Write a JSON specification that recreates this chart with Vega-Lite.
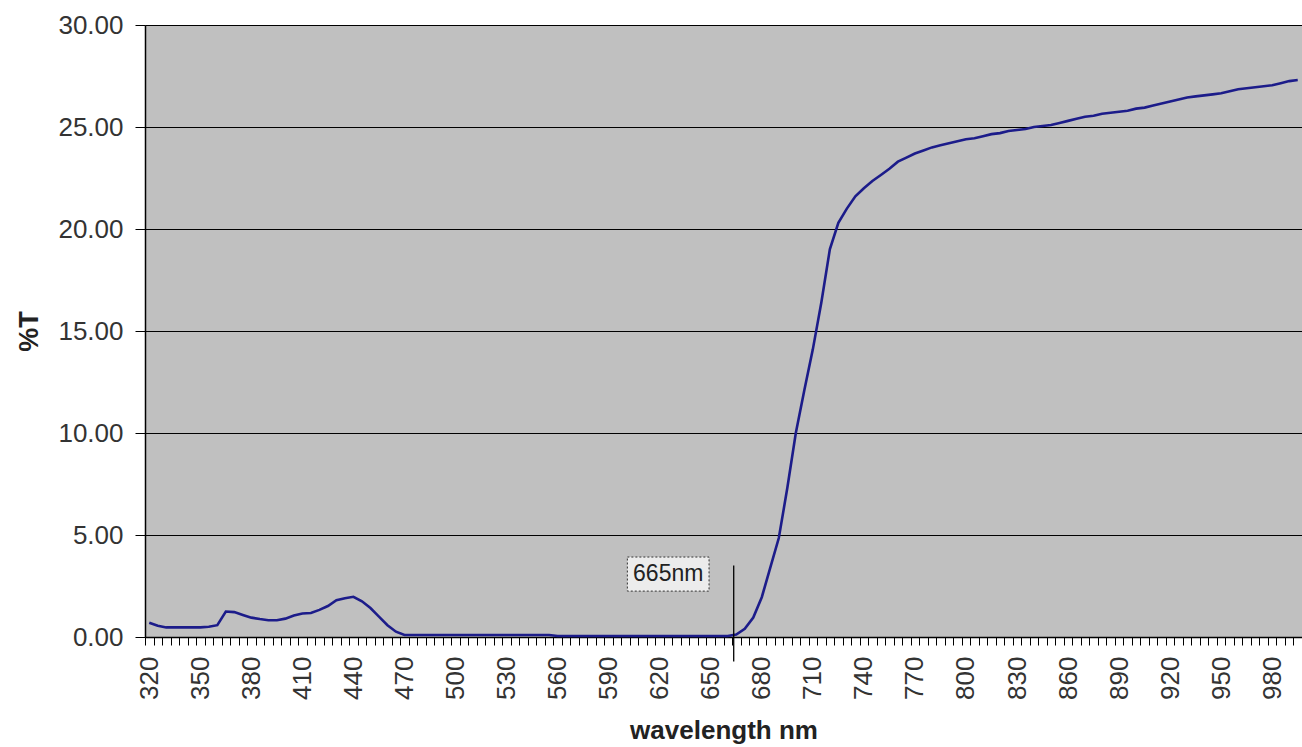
{
  "$schema": "https://vega.github.io/schema/vega-lite/v6.json",
  "width": 1157,
  "height": 612,
  "autosize": "none",
  "padding": {"left": 145, "top": 25, "right": 0, "bottom": 110},
  "background": "white",
  "config": {
    "view": {"fill": "#c0c0c0", "stroke": null},
    "font": "Liberation Sans"
  },
  "datasets": {
    "spectrum": [
      {"wavelength": 320, "T": 0.70}, {"wavelength": 325, "T": 0.55}, {"wavelength": 330, "T": 0.47},
      {"wavelength": 335, "T": 0.47}, {"wavelength": 340, "T": 0.47}, {"wavelength": 345, "T": 0.47},
      {"wavelength": 350, "T": 0.47}, {"wavelength": 355, "T": 0.50}, {"wavelength": 360, "T": 0.58},
      {"wavelength": 365, "T": 1.25}, {"wavelength": 370, "T": 1.22}, {"wavelength": 375, "T": 1.08},
      {"wavelength": 380, "T": 0.95}, {"wavelength": 385, "T": 0.88}, {"wavelength": 390, "T": 0.82},
      {"wavelength": 395, "T": 0.82}, {"wavelength": 400, "T": 0.90}, {"wavelength": 405, "T": 1.05},
      {"wavelength": 410, "T": 1.15}, {"wavelength": 415, "T": 1.18}, {"wavelength": 420, "T": 1.33},
      {"wavelength": 425, "T": 1.52}, {"wavelength": 430, "T": 1.80}, {"wavelength": 435, "T": 1.90},
      {"wavelength": 440, "T": 1.97}, {"wavelength": 445, "T": 1.75}, {"wavelength": 450, "T": 1.42},
      {"wavelength": 455, "T": 1.00}, {"wavelength": 460, "T": 0.58}, {"wavelength": 465, "T": 0.26},
      {"wavelength": 470, "T": 0.10}, {"wavelength": 475, "T": 0.10}, {"wavelength": 480, "T": 0.10},
      {"wavelength": 485, "T": 0.10}, {"wavelength": 490, "T": 0.10}, {"wavelength": 495, "T": 0.10},
      {"wavelength": 500, "T": 0.10}, {"wavelength": 505, "T": 0.10}, {"wavelength": 510, "T": 0.10},
      {"wavelength": 515, "T": 0.10}, {"wavelength": 520, "T": 0.10}, {"wavelength": 525, "T": 0.10},
      {"wavelength": 530, "T": 0.10}, {"wavelength": 535, "T": 0.10}, {"wavelength": 540, "T": 0.10},
      {"wavelength": 545, "T": 0.10}, {"wavelength": 550, "T": 0.10}, {"wavelength": 555, "T": 0.10},
      {"wavelength": 560, "T": 0.05}, {"wavelength": 565, "T": 0.05}, {"wavelength": 570, "T": 0.05},
      {"wavelength": 575, "T": 0.05}, {"wavelength": 580, "T": 0.05}, {"wavelength": 585, "T": 0.05},
      {"wavelength": 590, "T": 0.05}, {"wavelength": 595, "T": 0.05}, {"wavelength": 600, "T": 0.05},
      {"wavelength": 605, "T": 0.05}, {"wavelength": 610, "T": 0.05}, {"wavelength": 615, "T": 0.05},
      {"wavelength": 620, "T": 0.05}, {"wavelength": 625, "T": 0.05}, {"wavelength": 630, "T": 0.05},
      {"wavelength": 635, "T": 0.05}, {"wavelength": 640, "T": 0.05}, {"wavelength": 645, "T": 0.05},
      {"wavelength": 650, "T": 0.05}, {"wavelength": 655, "T": 0.05}, {"wavelength": 660, "T": 0.05},
      {"wavelength": 665, "T": 0.12}, {"wavelength": 670, "T": 0.40}, {"wavelength": 675, "T": 0.95},
      {"wavelength": 680, "T": 1.95}, {"wavelength": 685, "T": 3.40}, {"wavelength": 690, "T": 4.85},
      {"wavelength": 695, "T": 7.30}, {"wavelength": 700, "T": 10.0}, {"wavelength": 705, "T": 12.1},
      {"wavelength": 710, "T": 14.1}, {"wavelength": 715, "T": 16.4}, {"wavelength": 720, "T": 19.0},
      {"wavelength": 725, "T": 20.3}, {"wavelength": 730, "T": 21.0}, {"wavelength": 735, "T": 21.6},
      {"wavelength": 740, "T": 22.0}, {"wavelength": 745, "T": 22.35}, {"wavelength": 750, "T": 22.65},
      {"wavelength": 755, "T": 22.95}, {"wavelength": 760, "T": 23.3}, {"wavelength": 765, "T": 23.5},
      {"wavelength": 770, "T": 23.7}, {"wavelength": 775, "T": 23.85}, {"wavelength": 780, "T": 24.0},
      {"wavelength": 785, "T": 24.1}, {"wavelength": 790, "T": 24.2}, {"wavelength": 795, "T": 24.3},
      {"wavelength": 800, "T": 24.4}, {"wavelength": 805, "T": 24.45}, {"wavelength": 810, "T": 24.55},
      {"wavelength": 815, "T": 24.65}, {"wavelength": 820, "T": 24.7}, {"wavelength": 825, "T": 24.8},
      {"wavelength": 830, "T": 24.85}, {"wavelength": 835, "T": 24.9}, {"wavelength": 840, "T": 25.0},
      {"wavelength": 845, "T": 25.05}, {"wavelength": 850, "T": 25.1}, {"wavelength": 855, "T": 25.2},
      {"wavelength": 860, "T": 25.3}, {"wavelength": 865, "T": 25.4}, {"wavelength": 870, "T": 25.5},
      {"wavelength": 875, "T": 25.55}, {"wavelength": 880, "T": 25.65}, {"wavelength": 885, "T": 25.7},
      {"wavelength": 890, "T": 25.75}, {"wavelength": 895, "T": 25.8}, {"wavelength": 900, "T": 25.9},
      {"wavelength": 905, "T": 25.95}, {"wavelength": 910, "T": 26.05}, {"wavelength": 915, "T": 26.15},
      {"wavelength": 920, "T": 26.25}, {"wavelength": 925, "T": 26.35}, {"wavelength": 930, "T": 26.45},
      {"wavelength": 935, "T": 26.5}, {"wavelength": 940, "T": 26.55}, {"wavelength": 945, "T": 26.6},
      {"wavelength": 950, "T": 26.65}, {"wavelength": 955, "T": 26.75}, {"wavelength": 960, "T": 26.85},
      {"wavelength": 965, "T": 26.9}, {"wavelength": 970, "T": 26.95}, {"wavelength": 975, "T": 27.0},
      {"wavelength": 980, "T": 27.05}, {"wavelength": 985, "T": 27.15}, {"wavelength": 990, "T": 27.25},
      {"wavelength": 995, "T": 27.3}
    ],
    "marker": [
      {"wavelength": 663.5, "T": 3.5, "T2": -1.2}
    ],
    "labelbox": [
      {"wavelength": 601, "wavelength2": 649, "T": 2.25, "T2": 3.92, "label": "665nm", "mid": 625, "Tmid": 3.08}
    ]
  },
  "encoding": {
    "x": {
      "field": "wavelength",
      "type": "quantitative",
      "scale": {"domain": [317.5, 997.5], "nice": false, "zero": false},
      "axis": {
        "title": "wavelength nm",
        "titleFont": "Liberation Sans",
        "titleFontSize": 26,
        "titleFontWeight": "bold",
        "titleColor": "#222",
        "titlePadding": 18,
        "values": [320,325,330,335,340,345,350,355,360,365,370,375,380,385,390,395,400,405,410,415,420,425,430,435,440,445,450,455,460,465,470,475,480,485,490,495,500,505,510,515,520,525,530,535,540,545,550,555,560,565,570,575,580,585,590,595,600,605,610,615,620,625,630,635,640,645,650,655,660,665,670,675,680,685,690,695,700,705,710,715,720,725,730,735,740,745,750,755,760,765,770,775,780,785,790,795,800,805,810,815,820,825,830,835,840,845,850,855,860,865,870,875,880,885,890,895,900,905,910,915,920,925,930,935,940,945,950,955,960,965,970,975,980,985,990,995],
        "labelExpr": "(datum.value - 320) % 30 == 0 ? datum.value : ''",
        "labelAngle": -90,
        "labelFontSize": 26,
        "labelColor": "#333",
        "labelPadding": 11,
        "labelOverlap": false,
        "labelBound": false,
        "labelFlush": false,
        "tickOffset": -4.25,
        "labelOffset": 4.25,
        "tickSize": 8,
        "tickColor": "#000",
        "tickWidth": 1,
        "domainColor": "#000",
        "domainWidth": 1.5,
        "grid": false
      }
    },
    "y": {
      "field": "T",
      "type": "quantitative",
      "scale": {"domain": [0, 30], "nice": false},
      "axis": {
        "title": "%T",
        "titleFont": "Liberation Sans",
        "titleFontSize": 27,
        "titleFontWeight": "bold",
        "titleColor": "#222",
        "titlePadding": 14,
        "values": [0, 5, 10, 15, 20, 25, 30],
        "format": ".2f",
        "labelFontSize": 26,
        "labelColor": "#333",
        "labelPadding": 12,
        "tickSize": 10,
        "tickColor": "#000",
        "domainColor": "#000",
        "domainWidth": 1.5,
        "grid": true,
        "gridColor": "#000",
        "gridWidth": 1.2,
        "gridOpacity": 1
      }
    }
  },
  "layer": [
    {
      "data": {"name": "spectrum"},
      "mark": {"type": "line", "color": "#1c1c8a", "strokeWidth": 2.6, "interpolate": "linear"}
    },
    {
      "data": {"name": "marker"},
      "mark": {"type": "rule", "color": "#000", "strokeWidth": 1.3, "clip": false},
      "encoding": {"y2": {"field": "T2"}}
    },
    {
      "data": {"name": "labelbox"},
      "mark": {"type": "rect", "fill": "#ececec", "stroke": "#333", "strokeWidth": 1, "strokeDash": [2, 2]},
      "encoding": {"x2": {"field": "wavelength2"}, "y2": {"field": "T2"}}
    },
    {
      "data": {"name": "labelbox"},
      "mark": {"type": "text", "font": "Liberation Sans", "fontSize": 23, "color": "#222", "align": "center", "baseline": "middle"},
      "encoding": {
        "x": {"field": "mid", "type": "quantitative"},
        "y": {"field": "Tmid", "type": "quantitative"},
        "text": {"field": "label"}
      }
    }
  ]
}
